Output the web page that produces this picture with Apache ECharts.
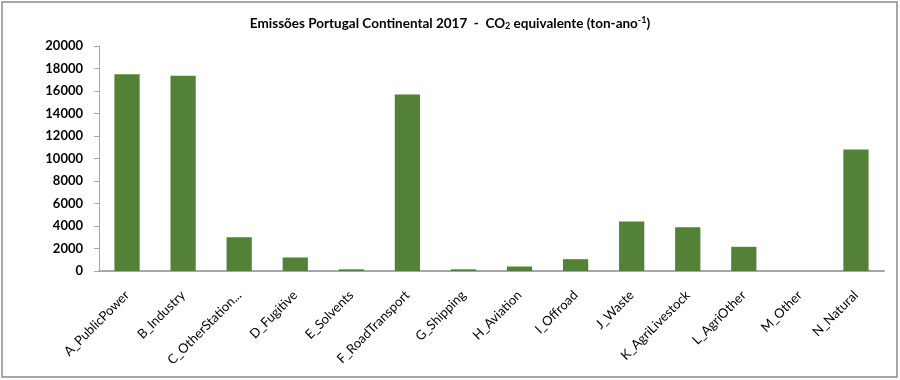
<!DOCTYPE html>
<html><head><meta charset="utf-8">
<script src="https://cdn.jsdelivr.net/npm/echarts@6/dist/echarts.min.js"></script>
<style>html,body{margin:0;padding:0;background:#fff}#c{width:900px;height:380px}</style>
</head><body><div id="c"></div>
<script>
const categories = ["A_PublicPower","B_Industry","C_OtherStation...","D_Fugitive","E_Solvents","F_RoadTransport","G_Shipping","H_Aviation","I_Offroad","J_Waste","K_AgriLivestock","L_AgriOther","M_Other","N_Natural"];
const values = [17500,17350,3000,1200,150,15700,150,400,1050,4400,3900,2150,0,10800];
const yMin = 0, yMax = 20000, yInterval = 2000;

const F = 'Lato, Arial, sans-serif';
const chart = echarts.init(document.getElementById('c'));
chart.setOption({
  animation:false,
  backgroundColor:'#fff',
  graphic:[{type:'rect',shape:{x:2,y:2,width:895,height:375},style:{fill:'none',stroke:'#8c8c8c',lineWidth:1.5}}],
  title:{
    text:'{n|Emissões Portugal Continental 2017  -  CO}{sub|2}{n| equivalente (ton-ano}{sup|-1}{n|)}',
    left:'center', top:11,
    textStyle:{
      rich:{
        n:{fontFamily:F,fontWeight:'bold',fontSize:13.5,color:'#000'},
        sub:{fontFamily:F,fontWeight:'bold',fontSize:9,color:'#000',verticalAlign:'bottom',padding:[6,0,0,0]},
        sup:{fontFamily:F,fontWeight:'bold',fontSize:9,color:'#000',verticalAlign:'top',padding:[0,0,6,0]}
      }
    }
  },
  grid:{left:99,right:16,top:46,bottom:109},
  xAxis:{
    type:'category', data:categories,
    axisLine:{lineStyle:{color:'#a6a6a6',width:2}},
    axisTick:{show:false},
    axisLabel:{rotate:45,interval:0,color:'#000',fontFamily:F,fontSize:13,margin:22}
  },
  yAxis:{
    type:'value', min:yMin, max:yMax, interval:yInterval,
    axisLine:{show:true,lineStyle:{color:'#a6a6a6'}},
    axisTick:{show:true,inside:false,length:5,lineStyle:{color:'#a6a6a6'}},
    splitLine:{show:false},
    axisLabel:{color:'#000',fontFamily:F,fontWeight:'bold',fontSize:13,margin:16,formatter:v=>String(v)}
  },
  series:[{type:'bar',data:values,barWidth:'45%',itemStyle:{color:'#538135'}}]
});
</script></body></html>
